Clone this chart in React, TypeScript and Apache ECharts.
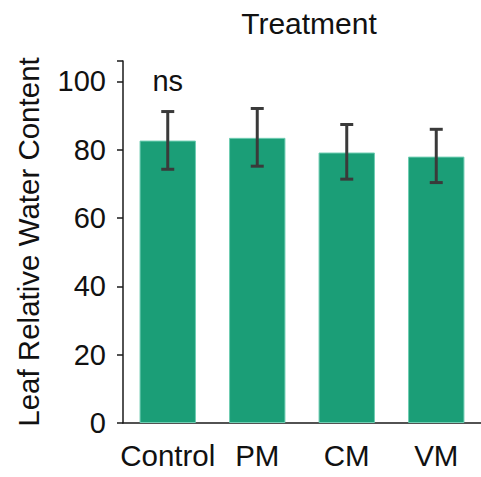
import React, { useEffect, useRef } from "react";
import * as echarts from "echarts";

const categories = ["Control", "PM", "CM", "VM"];
const means = [82.7, 83.5, 79.2, 78.0];
const errLow = [74.3, 75.2, 71.4, 70.4];
const errHigh = [91.2, 92.1, 87.4, 86.0];
const yTicks = { min: 0, max: 106, interval: 20 };
const FONT = "'Liberation Sans', Arial, sans-serif";

export default function App() {
  const ref = useRef<HTMLDivElement>(null);
  useEffect(() => {
    document.body.style.margin = "0";
    const chart = echarts.init(ref.current!, null, { renderer: "svg" });
    const errData = categories.map((_, i) => [i, errLow[i], errHigh[i]]);
    chart.setOption({
      animation: false,
      backgroundColor: "#ffffff",
      textStyle: { fontFamily: FONT },
      title: {
        text: "Treatment",
        left: 304,
        top: 3,
        textAlign: "center",
        textStyle: { fontFamily: FONT, fontSize: 30, fontWeight: "normal", color: "#111" },
      },
      grid: { left: 123, top: 61, width: 362, height: 362 },
      xAxis: {
        type: "category",
        data: categories,
        axisLine: { lineStyle: { color: "#1a1a1a", width: 1.5 } },
        axisTick: { alignWithLabel: true, length: 6, lineStyle: { color: "#1a1a1a", width: 1.5 } },
        axisLabel: { interval: 0, fontFamily: FONT, fontSize: 29.5, color: "#111", margin: 17 },
      },
      yAxis: {
        type: "value",
        min: yTicks.min,
        max: yTicks.max,
        interval: yTicks.interval,
        name: "Leaf Relative Water Content",
        nameLocation: "middle",
        nameRotate: 90,
        nameGap: 80,
        nameTextStyle: { fontFamily: FONT, fontSize: 29.5, color: "#111" },
        splitLine: { show: false },
        axisLine: { show: true, lineStyle: { color: "#1a1a1a", width: 1.5 } },
        axisTick: { show: true, length: 6, lineStyle: { color: "#1a1a1a", width: 1.5 } },
        axisLabel: {
          fontFamily: FONT,
          fontSize: 29,
          color: "#111",
          margin: 17,
          formatter: (v: number) => (v % 20 === 0 ? String(v) : ""),
        },
      },
      series: [
        {
          type: "bar",
          data: means,
          barWidth: "63%",
          itemStyle: { color: "#1b9e77", borderColor: "#6fcdb2", borderWidth: 1 },
          markPoint: {
            symbol: "rect",
            symbolSize: 1,
            itemStyle: { color: "rgba(0,0,0,0)" },
            label: {
              show: true,
              position: "inside",
              formatter: "ns",
              fontFamily: FONT,
              fontSize: 29,
              color: "#111",
            },
            data: [{ coord: ["Control", 100] }],
          },
        },
        {
          type: "custom",
          data: errData,
          encode: { x: 0, y: [1, 2] },
          z: 10,
          renderItem: (params: any, api: any) => {
            const x = api.value(0);
            const lo = api.coord([x, api.value(1)]);
            const hi = api.coord([x, api.value(2)]);
            const hw = 6.5;
            const style = { stroke: "#3a3a3a", lineWidth: 3 };
            return {
              type: "group",
              children: [
                { type: "line", shape: { x1: lo[0], y1: lo[1], x2: hi[0], y2: hi[1] }, style },
                { type: "line", shape: { x1: lo[0] - hw, y1: lo[1], x2: lo[0] + hw, y2: lo[1] }, style },
                { type: "line", shape: { x1: hi[0] - hw, y1: hi[1], x2: hi[0] + hw, y2: hi[1] }, style },
              ],
            };
          },
        },
      ],
    });
    return () => chart.dispose();
  }, []);
  return <div ref={ref} style={{ width: 481, height: 477 }} />;
}
